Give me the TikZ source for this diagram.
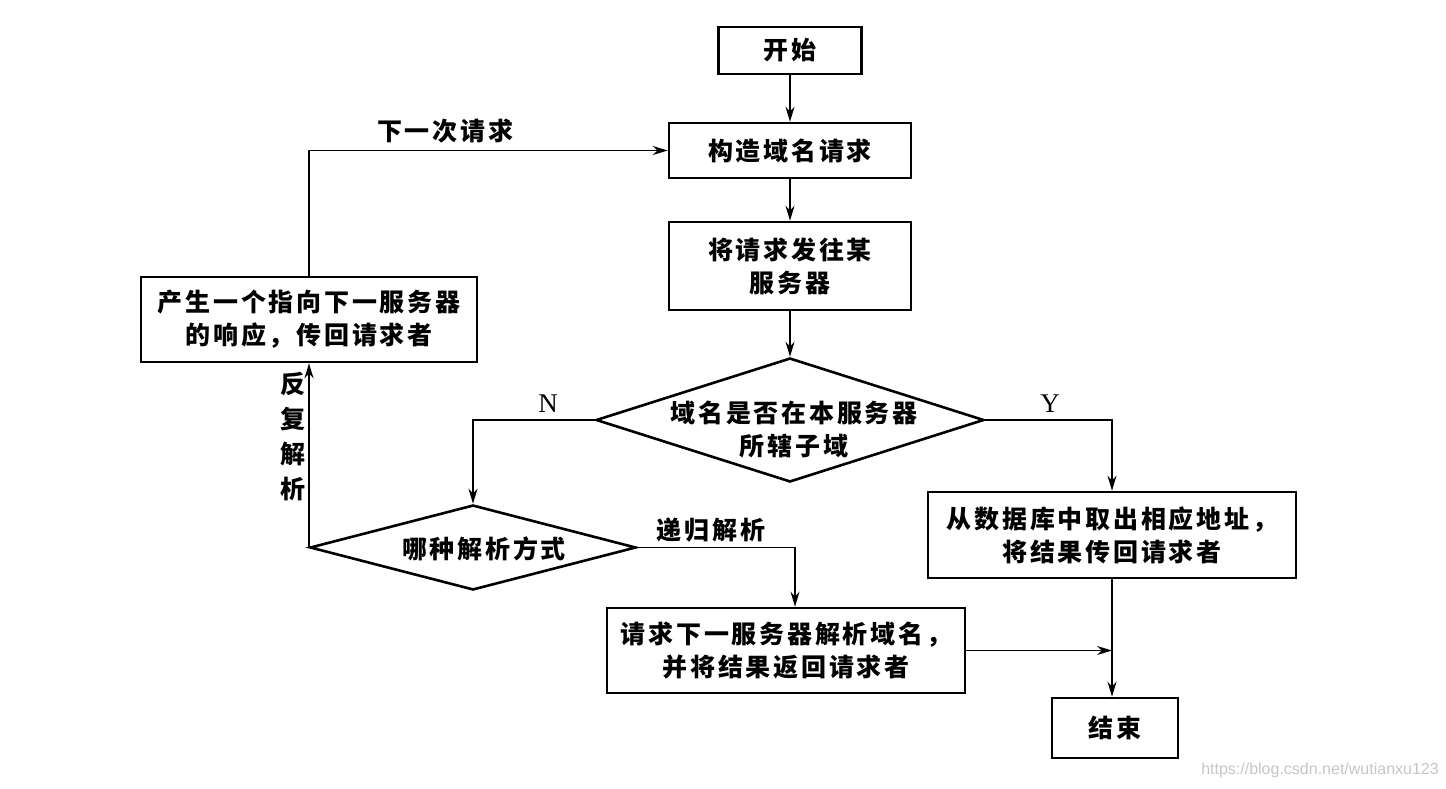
\documentclass[tikz,border=0pt]{standalone}
\usepackage{fontspec}
\newfontfamily\cjk[LetterSpace=11]{Noto Sans CJK SC}
\newfontfamily\wmfont{Liberation Sans}
\newfontfamily\latinfont{Liberation Serif}
\usetikzlibrary{shapes.geometric,arrows.meta}
\tikzset{
  box/.style={draw, line width=2.6pt, inner sep=0pt, align=center,
    font=\cjk\bfseries\fontsize{25}{33}\selectfont},
  dia/.style={draw, diamond, line width=2.6pt, inner sep=0pt},
  txt/.style={inner sep=0pt, align=center, font=\cjk\bfseries\fontsize{25}{33}\selectfont},
  lat/.style={inner sep=0pt, font=\latinfont\fontsize{27}{30}\selectfont},
  conn/.style={line width=1.6pt, -{Stealth[length=15pt,width=9pt]}},
  plain/.style={line width=1.6pt}
}
\begin{document}
\begin{tikzpicture}[x=1pt,y=-1pt]
\useasboundingbox (0,0) rectangle (1446,788);
% boxes
\node[box, minimum width=143, minimum height=47] (start) at (790,50.5) {开始};
\node[box, minimum width=242, minimum height=55] (c1) at (790,150.5) {构造域名请求};
\node[box, minimum width=242, minimum height=88] (c2) at (790,266) {将请求发往某\\服务器};
\node[dia, minimum width=388, minimum height=124] (d1) at (790,420) {};
\node[txt] (d1t) at (794,430) {域名是否在本服务器\\所辖子域};
\node[dia, minimum width=326, minimum height=85] (d2) at (473,547.5) {};
\node[txt] (d2t) at (484,549) {哪种解析方式};
\node[box, minimum width=336, minimum height=85] (resp) at (309,319.5) {产生一个指向下一服务器\\的响应，传回请求者};
\node[box, minimum width=358, minimum height=85] (rec) at (786,650.5) {请求下一服务器解析域名，\\并将结果返回请求者};
\node[box, minimum width=368, minimum height=86] (db) at (1112,535) {从数据库中取出相应地址，\\将结果传回请求者};
\node[box, minimum width=126, minimum height=60] (end) at (1115,728) {结束};
% connectors
\draw[conn] (start.south) -- (c1.north);
\draw[conn] (c1.south) -- (c2.north);
\draw[conn] (c2.south) -- (d1.north);
\draw[conn] (d1.west) -| (d2.north);
\draw[conn] (d2.west) -| (resp.south);
\draw[conn] (resp.north) |- (c1.west);
\draw[conn] (d2.east) -| ([xshift=9pt]rec.north);
\draw[conn] (d1.east) -| (db.north);
\draw[conn] (db.south) -- (db.south |- end.north);
\draw[conn] (rec.east) -- (rec.east -| db.south);
% labels
\node[lat] (lN) at (548,404) {N};
\node[lat] (lY) at (1050,404) {Y};
\node[txt] (l1) at (445,131) {下一次请求};
\node[txt] (l2) at (711,530) {递归解析};
\node[txt, font=\cjk\bfseries\fontsize{25}{35}\selectfont] (l3) at (293,437) {反\\复\\解\\析};
\node[inner sep=0pt, text=gray!45, font=\wmfont\fontsize{16}{18}\selectfont] (wm) at (1320,770) {https://blog.csdn.net/wutianxu123};
\end{tikzpicture}
\end{document}
